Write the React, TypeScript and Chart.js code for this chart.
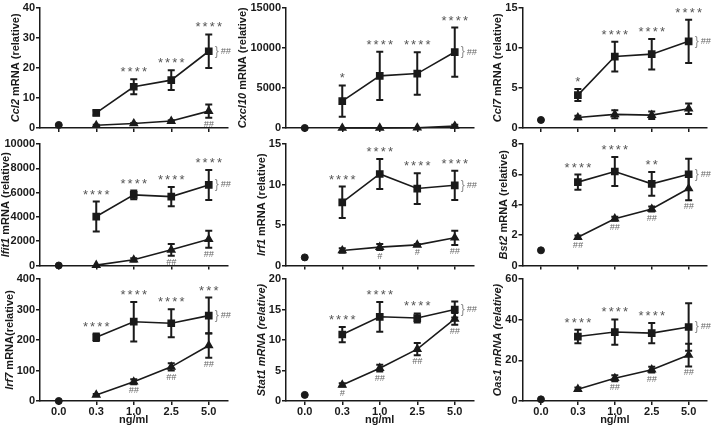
import React, { useEffect, useRef } from 'react';
import { Chart, registerables } from 'chart.js';
Chart.register(...registerables);

const FONT = "'Liberation Sans', Arial, sans-serif";
Chart.defaults.font.family = FONT;

const categories = ['0.0', '0.3', '1.0', '2.5', '5.0'];

// Ccl2
const ccl2Control = [1, null, null, null, null];
const ccl2High = [null, 5.0, 13.7, 15.9, 25.5];
const ccl2HighErr = [0, 0.8, 2.5, 3.3, 5.6];
const ccl2Low = [null, 0.9, 1.5, 2.3, 5.6];
const ccl2LowErr = [0, 0.2, 0.2, 0.3, 2.2];
const ccl2Stars = ['', '', '****', '****', '****'];
const ccl2Hash = ['', '', '', '', '##'];
const ccl2Ticks = [0, 10, 20, 30, 40];

// Cxcl10
const cxcl10Control = [0, null, null, null, null];
const cxcl10High = [null, 3350, 6490, 6780, 9460];
const cxcl10HighErr = [0, 1950, 3015, 2650, 3060];
const cxcl10Low = [null, 0, 10, 30, 250];
const cxcl10LowErr = [0, 0, 0, 0, 150];
const cxcl10Stars = ['', '*', '****', '****', '****'];
const cxcl10Hash = ['', '', '', '', ''];
const cxcl10Ticks = [0, 5000, 10000, 15000];

// Ccl7
const ccl7Control = [1.0, null, null, null, null];
const ccl7High = [null, 4.1, 8.9, 9.2, 10.8];
const ccl7HighErr = [0, 0.75, 1.85, 1.9, 2.7];
const ccl7Low = [null, 1.3, 1.7, 1.6, 2.4];
const ccl7LowErr = [0, 0.22, 0.5, 0.47, 0.65];
const ccl7Stars = ['', '*', '****', '****', '****'];
const ccl7Hash = ['', '', '', '', ''];
const ccl7Ticks = [0, 5, 10, 15];

// Ifit1
const ifit1Control = [0, null, null, null, null];
const ifit1High = [null, 4030, 5810, 5670, 6630];
const ifit1HighErr = [0, 1235, 355, 800, 1230];
const ifit1Low = [null, 30, 470, 1290, 2160];
const ifit1LowErr = [0, 0, 135, 480, 690];
const ifit1Stars = ['', '****', '****', '****', '****'];
const ifit1Hash = ['', '', '', '##', '##'];
const ifit1Ticks = [0, 2000, 4000, 6000, 8000, 10000];

// Irf1
const irf1Control = [1.0, null, null, null, null];
const irf1High = [null, 7.8, 11.3, 9.5, 9.9];
const irf1HighErr = [0, 1.95, 1.85, 1.9, 1.8];
const irf1Low = [null, 1.85, 2.27, 2.55, 3.42];
const irf1LowErr = [0, 0.27, 0.37, 0.1, 0.88];
const irf1Stars = ['', '****', '****', '****', '****'];
const irf1Hash = ['', '', '#', '#', '##'];
const irf1Ticks = [0, 5, 10, 15];

// Bst2
const bst2Control = [1.0, null, null, null, null];
const bst2High = [null, 5.49, 6.19, 5.38, 6.01];
const bst2HighErr = [0, 0.5, 0.96, 0.78, 1.02];
const bst2Low = [null, 1.86, 3.08, 3.72, 5.07];
const bst2LowErr = [0, 0.11, 0.13, 0.17, 0.77];
const bst2Stars = ['', '****', '****', '**', ''];
const bst2Hash = ['', '##', '##', '##', '##'];
const bst2Ticks = [0, 2, 4, 6, 8];

// Irf7
const irf7Control = [0, null, null, null, null];
const irf7High = [null, 209, 260, 255, 280];
const irf7HighErr = [0, 12, 65, 46, 59];
const irf7Low = [null, 20, 63, 112, 182];
const irf7LowErr = [0, 3, 8, 12, 40];
const irf7Stars = ['', '****', '****', '****', '***'];
const irf7Hash = ['', '', '##', '##', '##'];
const irf7Ticks = [0, 100, 200, 300, 400];

// Stat1
const stat1Control = [1.0, null, null, null, null];
const stat1High = [null, 10.9, 13.8, 13.6, 15.0];
const stat1HighErr = [0, 1.25, 2.45, 0.75, 1.3];
const stat1Low = [null, 2.64, 5.38, 8.5, 13.46];
const stat1LowErr = [0, 0.27, 0.55, 1.0, 0.98];
const stat1Stars = ['', '****', '****', '****', ''];
const stat1Hash = ['', '#', '##', '##', '##'];
const stat1Ticks = [0, 5, 10, 15, 20];

// Oas1
const oas1Control = [0.8, null, null, null, null];
const oas1High = [null, 31.7, 33.9, 33.4, 36.4];
const oas1HighErr = [0, 3.3, 6.2, 5.0, 11.7];
const oas1Low = [null, 5.8, 11.2, 15.4, 22.6];
const oas1LowErr = [0, 0.8, 1.5, 1.4, 5.6];
const oas1Stars = ['', '****', '****', '****', ''];
const oas1Hash = ['', '', '##', '##', '##'];
const oas1Ticks = [0, 20, 40, 60];

type Vals = (number | null)[];
type PanelDef = {
  gene: string; rest: string; restItalic: boolean;
  control: Vals; high: Vals; highErr: number[]; low: Vals; lowErr: number[];
  stars: string[]; hash: string[]; ticks: number[];
  row: number; col: number;
};

const panels: PanelDef[] = [
  { gene: 'Ccl2', rest: ' mRNA (relative)', restItalic: false, control: ccl2Control, high: ccl2High, highErr: ccl2HighErr, low: ccl2Low, lowErr: ccl2LowErr, stars: ccl2Stars, hash: ccl2Hash, ticks: ccl2Ticks, row: 0, col: 0 },
  { gene: 'Cxcl10', rest: ' mRNA (relative)', restItalic: false, control: cxcl10Control, high: cxcl10High, highErr: cxcl10HighErr, low: cxcl10Low, lowErr: cxcl10LowErr, stars: cxcl10Stars, hash: cxcl10Hash, ticks: cxcl10Ticks, row: 0, col: 1 },
  { gene: 'Ccl7', rest: ' mRNA (relative)', restItalic: false, control: ccl7Control, high: ccl7High, highErr: ccl7HighErr, low: ccl7Low, lowErr: ccl7LowErr, stars: ccl7Stars, hash: ccl7Hash, ticks: ccl7Ticks, row: 0, col: 2 },
  { gene: 'Ifit1', rest: ' mRNA (relative)', restItalic: false, control: ifit1Control, high: ifit1High, highErr: ifit1HighErr, low: ifit1Low, lowErr: ifit1LowErr, stars: ifit1Stars, hash: ifit1Hash, ticks: ifit1Ticks, row: 1, col: 0 },
  { gene: 'Irf1', rest: ' mRNA (relative)', restItalic: false, control: irf1Control, high: irf1High, highErr: irf1HighErr, low: irf1Low, lowErr: irf1LowErr, stars: irf1Stars, hash: irf1Hash, ticks: irf1Ticks, row: 1, col: 1 },
  { gene: 'Bst2', rest: ' mRNA (relative)', restItalic: false, control: bst2Control, high: bst2High, highErr: bst2HighErr, low: bst2Low, lowErr: bst2LowErr, stars: bst2Stars, hash: bst2Hash, ticks: bst2Ticks, row: 1, col: 2 },
  { gene: 'Irf7', rest: ' mRNA(relative)', restItalic: false, control: irf7Control, high: irf7High, highErr: irf7HighErr, low: irf7Low, lowErr: irf7LowErr, stars: irf7Stars, hash: irf7Hash, ticks: irf7Ticks, row: 2, col: 0 },
  { gene: 'Stat1', rest: ' mRNA (relative)', restItalic: true, control: stat1Control, high: stat1High, highErr: stat1HighErr, low: stat1Low, lowErr: stat1LowErr, stars: stat1Stars, hash: stat1Hash, ticks: stat1Ticks, row: 2, col: 1 },
  { gene: 'Oas1', rest: ' mRNA (relative)', restItalic: true, control: oas1Control, high: oas1High, highErr: oas1HighErr, low: oas1Low, lowErr: oas1LowErr, stars: oas1Stars, hash: oas1Hash, ticks: oas1Ticks, row: 2, col: 2 },
];

// layout (pixels)
const AXIS_X = [40, 286, 522.5];
const PLOT_W = 187.5;
const CANVAS_L = [0, 236, 476];
const CANVAS_R = [260, 500, 713];
const ROW_TOP = [6.5, 144, 279];
const ROW_BOTTOM = [128, 265.5, 401];
const CANVAS_T = [0, 136, 270];
const CANVAS_B = [138, 275, 427];

const INK = '#1a1a1a';
const TICK_FONT = { family: FONT, size: 11, weight: 'bold' as const };

const makeOverlay = (p: PanelDef) => ({
  id: 'overlay',
  afterDatasetsDraw(chart: any) {
    const { ctx } = chart;
    const xs = chart.scales.x, ys = chart.scales.y;
    ctx.save();
    ctx.strokeStyle = INK;
    ctx.lineWidth = 2;
    const bars = (vals: Vals, errs: number[]) => {
      vals.forEach((v, i) => {
        if (v == null || !errs[i]) return;
        const px = xs.getPixelForValue(i);
        const t = ys.getPixelForValue(v + errs[i]);
        const b = ys.getPixelForValue(Math.max(0, v - errs[i]));
        ctx.beginPath();
        ctx.moveTo(px, t); ctx.lineTo(px, b);
        ctx.moveTo(px - 3.5, t); ctx.lineTo(px + 3.5, t);
        ctx.moveTo(px - 3.5, b); ctx.lineTo(px + 3.5, b);
        ctx.stroke();
      });
    };
    bars(p.high, p.highErr);
    bars(p.low, p.lowErr);
    ctx.restore();
  },
  afterDraw(chart: any) {
    const { ctx, chartArea } = chart;
    const xs = chart.scales.x, ys = chart.scales.y;
    ctx.save();
    // stars above the high series
    ctx.fillStyle = '#555';
    ctx.font = `13px ${FONT}`;
    ctx.textAlign = 'center';
    ctx.textBaseline = 'alphabetic';
    p.stars.forEach((s, i) => {
      const v = p.high[i];
      if (!s || v == null) return;
      const px = xs.getPixelForValue(i);
      const py = ys.getPixelForValue(v + p.highErr[i]) - 3;
      const n = s.length;
      for (let k = 0; k < n; k++) {
        ctx.fillText('*', px - ((n - 1) * 7.2) / 2 + k * 7.2, py);
      }
    });
    // hashes below the low series
    ctx.fillStyle = '#666';
    ctx.font = `italic 9px ${FONT}`;
    ctx.textBaseline = 'top';
    p.hash.forEach((h, i) => {
      const v = p.low[i];
      if (!h || v == null) return;
      const px = xs.getPixelForValue(i);
      const py = ys.getPixelForValue(Math.max(0, v - p.lowErr[i])) + 2;
      ctx.fillText(h, px, py);
    });
    // brace + ## at the last high point
    const li = p.high.length - 1;
    const lv = p.high[li];
    if (lv != null) {
      const px = xs.getPixelForValue(li);
      const py = ys.getPixelForValue(lv);
      ctx.textAlign = 'left';
      ctx.textBaseline = 'middle';
      ctx.fillStyle = '#888';
      ctx.font = `12px ${FONT}`;
      ctx.fillText('}', px + 6, py);
      ctx.fillStyle = '#666';
      ctx.font = `italic 9px ${FONT}`;
      ctx.fillText('##', px + 12, py);
    }
    // y-axis title with italic gene name
    ctx.font = `bold 11px ${FONT}`;
    const labelW = Math.max(...p.ticks.slice(0, -1).map((t) => ctx.measureText(String(t)).width));
    let tx = ys.right - 4 - 1 - labelW - 1.5 - 5.5;
    const minX = 6 - CANVAS_L[p.col];
    if (tx < minX) tx = minX;
    const cy = (chartArea.top + chartArea.bottom) / 2;
    const f1 = `italic bold 11px ${FONT}`;
    const f2 = `${p.restItalic ? 'italic ' : ''}bold 11px ${FONT}`;
    ctx.font = f1;
    const w1 = ctx.measureText(p.gene).width;
    ctx.font = f2;
    const w2 = ctx.measureText(p.rest).width;
    ctx.translate(tx, cy);
    ctx.rotate(-Math.PI / 2);
    ctx.fillStyle = INK;
    ctx.textAlign = 'left';
    ctx.textBaseline = 'middle';
    const start = -(w1 + w2) / 2;
    ctx.font = f1;
    ctx.fillText(p.gene, start, 0);
    ctx.font = f2;
    ctx.fillText(p.rest, start + w1, 0);
    ctx.restore();
  },
});

function Panel({ p }: { p: PanelDef }) {
  const ref = useRef<HTMLCanvasElement>(null);
  const cl = CANVAS_L[p.col], cr = CANVAS_R[p.col];
  const ct = CANVAS_T[p.row], cb = CANVAS_B[p.row];
  const w = cr - cl, h = cb - ct;
  useEffect(() => {
    if (!ref.current) return;
    const yWidth = AXIS_X[p.col] - cl;
    const padRight = cr - (AXIS_X[p.col] + PLOT_W);
    const padTop = ROW_TOP[p.row] - ct;
    const xHeight = cb - ROW_BOTTOM[p.row];
    const bottomRow = p.row === 2;
    const chart = new Chart(ref.current, {
      type: 'line',
      data: {
        labels: categories,
        datasets: [
          { data: p.control, borderColor: INK, backgroundColor: INK, pointStyle: 'circle', pointRadius: 3.5, showLine: false, clip: false } as any,
          { data: p.high, borderColor: INK, backgroundColor: INK, borderWidth: 1.6, pointStyle: 'rect', pointRadius: 4.3, clip: false } as any,
          { data: p.low, borderColor: INK, backgroundColor: INK, borderWidth: 1.6, pointStyle: 'triangle', pointRadius: 4, clip: false } as any,
        ],
      },
      options: {
        animation: false,
        responsive: false,
        events: [],
        layout: { padding: { top: padTop, right: padRight, left: 0, bottom: 0 } },
        plugins: { legend: { display: false }, tooltip: { enabled: false } },
        scales: {
          x: {
            type: 'category',
            offset: true,
            afterFit: (s: any) => { s.height = xHeight; },
            grid: { display: true, drawOnChartArea: false, drawTicks: true, tickLength: 4, color: INK, lineWidth: 1.5 },
            border: { display: true, color: INK, width: 1.5 },
            ticks: { display: bottomRow, font: TICK_FONT, color: INK, padding: 0, maxRotation: 0, autoSkip: false },
            title: { display: bottomRow, text: 'ng/ml', font: TICK_FONT, color: INK, padding: { top: 0, bottom: 0.5 } },
          },
          y: {
            type: 'linear',
            min: 0,
            max: p.ticks[p.ticks.length - 1],
            afterFit: (s: any) => { s.width = yWidth; },
            afterBuildTicks: (s: any) => { s.ticks = p.ticks.map((v) => ({ value: v })); },
            grid: { display: true, drawOnChartArea: false, drawTicks: true, tickLength: 4, color: INK, lineWidth: 1.5 },
            border: { display: true, color: INK, width: 1.5 },
            ticks: { font: TICK_FONT, color: INK, padding: 1, callback: (v: any) => String(v) },
          },
        },
      },
      plugins: [makeOverlay(p) as any],
    });
    return () => chart.destroy();
  }, []);
  return (
    <canvas
      ref={ref}
      width={w}
      height={h}
      style={{ position: 'absolute', left: cl, top: ct, width: w, height: h }}
    />
  );
}

export default function App() {
  return (
    <div style={{ position: 'fixed', left: 0, top: 0, width: 713, height: 427, background: '#fff', overflow: 'hidden' }}>
      {panels.map((p) => (
        <Panel key={p.gene} p={p} />
      ))}
    </div>
  );
}
